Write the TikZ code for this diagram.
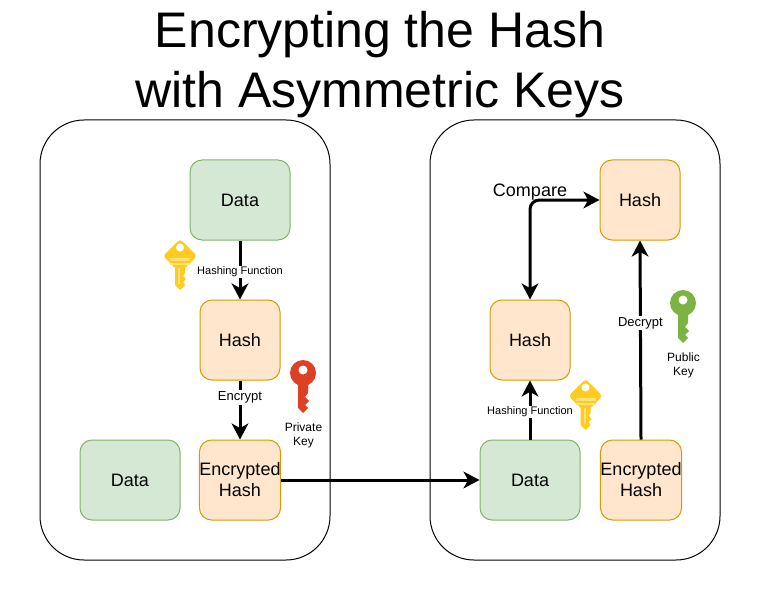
\documentclass[tikz,border=0pt]{standalone}
\usepackage{fontspec}
\setmainfont{Liberation Sans}
\usetikzlibrary{arrows.meta}
\definecolor{datafill}{HTML}{D5E8D4}
\definecolor{dataline}{HTML}{82B366}
\definecolor{hashfill}{HTML}{FFE6CC}
\definecolor{hashline}{HTML}{D79B00}
\definecolor{keyred}{HTML}{DD4124}
\definecolor{keygreen}{HTML}{7CB342}
\definecolor{keyyellow}{HTML}{FFCB1F}
\definecolor{keystripe}{HTML}{FFE27A}
\begin{document}
\begin{tikzpicture}[x=0.75pt,y=-0.75pt,
  >={Stealth[length=12pt,width=12.5pt,inset=3.5pt]},
  box/.style={draw,rounded corners=9pt,line width=0.75pt,inner sep=0pt,align=center,
    font=\fontsize{13.5}{15.75}\selectfont},
  databox/.style={box,fill=datafill,draw=dataline,minimum width=75pt,minimum height=60pt},
  hashbox/.style={box,fill=hashfill,draw=hashline,minimum width=60pt,minimum height=60pt},
  link/.style={line width=2.25pt},
  linklabel/.style={fill=white,inner sep=1pt,font=\fontsize{#1}{11}\selectfont},
  keytext/.style={align=center,font=\fontsize{9}{10.5}\selectfont},
  pics/roundkey/.style={code={
    \fill[#1] (0,0) circle [radius=13];
    \fill[#1] (-5,8)--(-5,35)--(0,40)--(5,35)--(2,32)--(6,28)--(2,24)--(5,20)--(5,8)--cycle;
    \fill[white] (0,-3) circle [radius=4.5];
  }},
  pics/diamondkey/.style={code={
    \fill[keyyellow,rounded corners=2.5pt] (0,-17)--(17,0)--(0,17)--(-17,0)--cycle;
    \fill[keyyellow] (-5,8)--(-5,29)--(0,34)--(5,29)--(3,26)--(6,23)--(3,20)--(5,17)--(5,8)--cycle;
    \fill[white] (0,-8.5) circle [radius=4];
    \fill[keystripe] (-10,2) rectangle (10,4.5);
    \fill[keystripe] (-10,6.5) rectangle (10,9);
    \fill[keystripe] (-2,12) rectangle (0,28);
  }}]
  \useasboundingbox (0,0) rectangle (762,602);
  \node[align=center,font=\fontsize{37.5}{45}\selectfont] (title) at (380,65) {Encrypting the Hash\\with Asymmetric Keys};
  \draw[rounded corners=33pt,line width=0.75pt] (40,120) rectangle (330,560);
  \draw[rounded corners=33pt,line width=0.75pt] (430,120) rectangle (720,560);

  \node[databox] (dataA) at (240,200) {Data};
  \node[hashbox] (hashA) at (240,340) {Hash};
  \node[databox] (dataB) at (130,480) {Data};
  \node[hashbox] (encA) at (240,480) {Encrypted\\Hash};
  \node[databox] (dataC) at (530,480) {Data};
  \node[hashbox] (encB) at (641,480) {Encrypted\\Hash};
  \node[hashbox] (hashB) at (530,340) {Hash};
  \node[hashbox] (hashC) at (640,200) {Hash};

  \draw[link,->] (dataA) -- node[linklabel=8.25,yshift=-1.5pt] (hashlabelA) {Hashing Function} (hashA);
  \draw[link,->] (hashA) -- node[linklabel=9.75,pos=0.29] (encryptlabel) {Encrypt} (encA);
  \draw[link,->] (encA) -- (dataC);
  \draw[link,->] (dataC) -- node[linklabel=8.25,yshift=-1.5pt] (hashlabelB) {Hashing Function} (hashB);
  \draw[link,->] (encB.north) -- node[linklabel=9.75,pos=0.585] (decryptlabel) {Decrypt} (hashC.south);
  \draw[link,<->,rounded corners=7pt] (hashB.north) |- (hashC.west);
  \node[font=\fontsize{13.5}{15}\selectfont] (compare) at (530,192) {Compare};

  \pic at (180,256) {diamondkey};
  \pic at (585.5,396) {diamondkey};
  \pic at (303,373) {roundkey=keyred};
  \pic at (683,303) {roundkey=keygreen};
  \node[keytext] (privatekey) at (303.5,435) {Private\\Key};
  \node[keytext] (publickey) at (683.5,365) {Public\\Key};
\end{tikzpicture}
\end{document}
